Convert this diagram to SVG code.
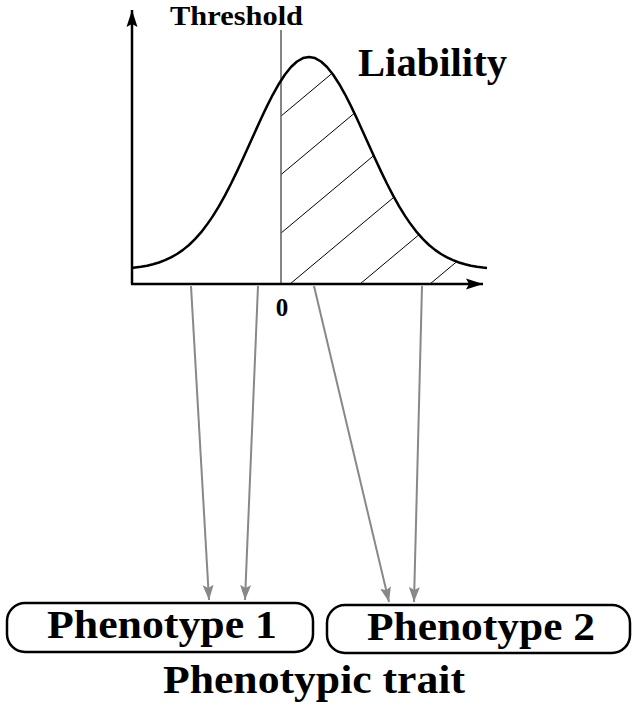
<svg xmlns="http://www.w3.org/2000/svg" width="632" height="707" viewBox="0 0 632 707">
<style>
.lbl{font-family:"Liberation Serif","Times New Roman",serif;font-weight:bold;fill:#000}
.box{fill:#fff;stroke:#000;stroke-width:2.5}
.conn{stroke:#888;stroke-width:2;fill:none}
.axis{stroke:#000;stroke-width:2.5;fill:none}
.hatch{stroke:#000;stroke-width:1;fill:none}
</style>
<defs>
<marker id="ag" markerUnits="userSpaceOnUse" markerWidth="16" markerHeight="12" refX="15" refY="6" orient="auto">
<path d="M0,0.5 L15,6 L0,11.5 L3,6 z" fill="#888"/>
</marker>
<marker id="ak" markerUnits="userSpaceOnUse" markerWidth="18" markerHeight="12" refX="17" refY="6" orient="auto">
<path d="M0,0.5 L17,6 L0,11.5 L3,6 z" fill="#000"/>
</marker>
<clipPath id="under">
<path d="M281,284 L281,80.4 L285,74.5 L291,67 L297,61.5 L303,58.1 L309,57 L315,58.1 L321,61.5 L327,67 L333,74.5 L339,83.7 L345,94.3 L351,106.1 L357,118.7 L363,131.9 L369,145.3 L375,158.5 L381,171.4 L387,183.8 L393,195.4 L399,206.1 L405,215.9 L411,224.6 L417,232.4 L423,239.1 L429,245 L435,249.9 L441,254 L447,257.4 L453,260.2 L459,262.5 L465,264.3 L471,265.7 L477,266.8 L483,267.6 L486,268 L486,284 Z"/>
</clipPath>
</defs>

<g id="plot">
<g clip-path="url(#under)">
<line class="hatch" x1="281" y1="116.1" x2="360" y2="50"/>
<line class="hatch" x1="281" y1="174.6" x2="400" y2="75"/>
<line class="hatch" x1="281" y1="233.1" x2="420" y2="116.9"/>
<line class="hatch" x1="290" y1="284" x2="450" y2="150.3"/>
<line class="hatch" x1="360" y1="284" x2="480" y2="183.7"/>
<line class="hatch" x1="430" y1="284" x2="500" y2="225.5"/>
</g>
<line x1="281" y1="30" x2="281" y2="284" stroke="#666" stroke-width="1.6"/>
<polyline fill="none" stroke="#000" stroke-width="2.5" stroke-linejoin="round" points="132,268 135,267.6 141,266.8 147,265.7 153,264.3 159,262.5 165,260.2 171,257.4 177,254 183,249.9 189,245 195,239.1 201,232.4 207,224.6 213,215.9 219,206.1 225,195.4 231,183.8 237,171.4 243,158.5 249,145.3 255,131.9 261,118.7 267,106.1 273,94.3 279,83.7 285,74.5 291,67 297,61.5 303,58.1 309,57 315,58.1 321,61.5 327,67 333,74.5 339,83.7 345,94.3 351,106.1 357,118.7 363,131.9 369,145.3 375,158.5 381,171.4 387,183.8 393,195.4 399,206.1 405,215.9 411,224.6 417,232.4 423,239.1 429,245 435,249.9 441,254 447,257.4 453,260.2 459,262.5 465,264.3 471,265.7 477,266.8 483,267.6 487,268"/>
<path class="axis" d="M132,284 L132,10" marker-end="url(#ak)"/>
<path class="axis" d="M131,284 L483,284" marker-end="url(#ak)"/>
<text class="lbl" x="170" y="25" font-size="28" textLength="133" lengthAdjust="spacingAndGlyphs">Threshold</text>
<text class="lbl" x="358" y="76" font-size="40" textLength="149" lengthAdjust="spacingAndGlyphs">Liability</text>
<text class="lbl" x="282" y="316" font-size="25" text-anchor="middle">0</text>
</g>

<g id="connectors">
<line class="conn" x1="191" y1="286" x2="209" y2="600" marker-end="url(#ag)"/>
<line class="conn" x1="258" y1="286" x2="245" y2="600" marker-end="url(#ag)"/>
<line class="conn" x1="314" y1="286" x2="389" y2="602" marker-end="url(#ag)"/>
<line class="conn" x1="422" y1="286" x2="414" y2="602" marker-end="url(#ag)"/>
</g>

<g id="phenotype1">
<rect class="box" x="7" y="603" width="306" height="49" rx="18"/>
<text class="lbl" x="47" y="638" font-size="40" textLength="230" lengthAdjust="spacingAndGlyphs">Phenotype 1</text>
</g>
<g id="phenotype2">
<rect class="box" x="327" y="605" width="303" height="48" rx="18"/>
<text class="lbl" x="367" y="640" font-size="40" textLength="228" lengthAdjust="spacingAndGlyphs">Phenotype 2</text>
</g>
<g id="trait">
<text class="lbl" x="163" y="693" font-size="40" textLength="302" lengthAdjust="spacingAndGlyphs">Phenotypic trait</text>
</g>
</svg>
